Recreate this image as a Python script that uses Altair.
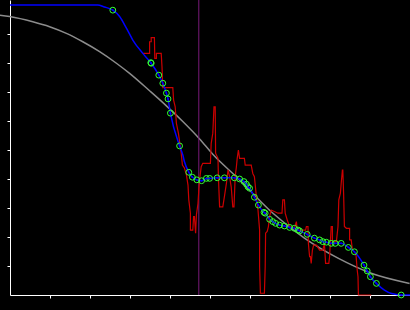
import altair as alt
import pandas as pd

# smooth reference curve (gray)
gray_x = [-0.26, -0.01, 0.57, 0.99, 1.41, 1.82, 2.24, 2.66, 2.99, 3.49, 3.91, 4.32, 4.74, 5.07, 5.70, 6.53, 7.36, 8.20, 9.03, 9.99]
gray_y = [9.65, 9.60, 9.42, 9.25, 9.02, 8.73, 8.39, 7.99, 7.64, 7.04, 6.52, 5.98, 5.38, 4.85, 4.02, 2.87, 1.96, 1.27, 0.75, 0.40]

# noisy measured series (red)
red_x = [3.32, 3.49, 3.49, 3.53, 3.53, 3.61, 3.62, 3.66, 3.66, 3.78, 3.80, 3.82, 4.07, 4.09, 4.13, 4.16,
         4.21, 4.28, 4.31, 4.36, 4.41, 4.45, 4.47, 4.51, 4.51, 4.57, 4.59, 4.61, 4.64, 4.66, 4.70, 4.72,
         4.74, 4.78, 4.82, 5.01, 5.03, 5.07, 5.10, 5.13, 5.14, 5.20, 5.21, 5.24, 5.32, 5.36, 5.41, 5.45,
         5.49, 5.53, 5.57, 5.60, 5.63, 5.66, 5.68, 5.71, 5.74, 5.86, 5.88, 6.03, 6.07, 6.11, 6.16, 6.20,
         6.24, 6.24, 6.26, 6.36, 6.38, 6.39, 6.43, 6.46, 6.49, 6.53, 6.70, 6.80, 6.82, 6.86, 6.88, 6.93,
         6.99, 7.11, 7.16, 7.18, 7.39, 7.41, 7.45, 7.46, 7.49, 7.51, 7.53, 7.56, 7.59, 7.66, 7.74, 7.82,
         7.86, 7.89, 7.97, 7.99, 8.03, 8.06, 8.06, 8.16, 8.20, 8.22, 8.26, 8.28, 8.31, 8.32, 8.34, 8.36,
         8.41, 8.49, 8.49, 8.53, 8.56, 8.61, 8.65, 8.68, 8.70, 8.71, 9.03]
red_y = [8.33, 8.33, 8.73, 8.73, 8.87, 8.87, 8.16, 8.16, 8.33, 8.33, 7.87, 7.15, 7.15, 6.72, 6.49, 5.92,
         5.58, 4.89, 4.48, 4.38, 4.14, 3.79, 3.28, 2.82, 2.24, 2.24, 2.70, 2.70, 2.13, 2.76, 3.16, 3.62,
         3.97, 4.42, 4.54, 4.54, 5.23, 5.58, 6.49, 6.49, 4.89, 4.71, 4.08, 3.04, 3.04, 3.39, 3.85, 4.31,
         4.08, 3.73, 3.04, 3.04, 4.08, 4.42, 4.71, 5.00, 4.71, 4.71, 4.48, 4.48, 4.19, 4.08, 3.39, 2.93,
         2.24, 0.98, 0.06, 0.06, 0.98, 2.13, 2.19, 2.36, 2.70, 2.93, 2.82, 2.82, 3.28, 3.28, 2.82, 2.59,
         2.36, 2.30, 2.53, 2.24, 2.24, 2.36, 2.36, 1.78, 1.32, 1.32, 1.09, 1.55, 1.72, 1.72, 1.55, 1.55,
         1.78, 1.09, 1.09, 1.32, 2.36, 2.36, 1.84, 1.84, 2.36, 3.28, 3.51, 3.85, 4.31, 4.31, 3.51, 2.36,
         2.30, 2.30, 1.90, 1.90, 1.55, 1.49, 1.38, 0.86, 0.63, 0.00, 0.00]

# fitted series (blue)
blue_x = [0.0, 2.19, 2.36, 2.57, 2.74, 2.91, 3.07, 3.32, 3.53, 3.72, 3.82, 3.91, 3.95, 4.01, 4.24, 4.32,
          4.36, 4.47, 4.56, 4.67, 4.79, 4.91, 4.99, 5.18, 5.36, 5.61, 5.74, 5.85, 5.91, 5.95, 5.99, 6.11,
          6.21, 6.35, 6.38, 6.49, 6.57, 6.64, 6.74, 6.86, 6.99, 7.11, 7.20, 7.24, 7.43, 7.61, 7.74, 7.82,
          7.91, 8.03, 8.13, 8.28, 8.46, 8.61, 8.85, 8.93, 9.01, 9.16, 9.36, 9.54, 9.78, 10.0]
blue_y = [10.0, 10.0, 9.93, 9.82, 9.60, 9.20, 8.79, 8.33, 7.99, 7.58, 7.30, 6.96, 6.76, 6.27, 5.14, 4.83,
          4.60, 4.23, 4.06, 3.97, 3.94, 4.02, 4.02, 4.04, 4.04, 4.04, 4.00, 3.91, 3.82, 3.73, 3.68, 3.37,
          3.10, 2.85, 2.82, 2.61, 2.53, 2.47, 2.41, 2.38, 2.33, 2.30, 2.24, 2.21, 2.09, 1.96, 1.90, 1.84,
          1.82, 1.78, 1.78, 1.78, 1.64, 1.49, 1.03, 0.83, 0.63, 0.40, 0.17, 0.05, 0.00, 0.00]

# sample points (circles)
pt_x = [2.57, 3.52, 3.53, 3.72, 3.82, 3.91, 3.95, 4.01, 4.24, 4.47, 4.56, 4.67, 4.79, 4.91, 4.99, 5.18,
        5.36, 5.61, 5.74, 5.85, 5.91, 5.95, 5.99, 6.11, 6.21, 6.35, 6.38, 6.49, 6.57, 6.64, 6.74, 6.86,
        6.99, 7.11, 7.20, 7.24, 7.43, 7.61, 7.74, 7.82, 7.91, 8.03, 8.13, 8.28, 8.46, 8.61, 8.85, 8.93,
        9.01, 9.16, 9.78]
pt_y = [9.82, 8.01, 7.99, 7.58, 7.30, 6.96, 6.76, 6.27, 5.14, 4.23, 4.06, 3.97, 3.94, 4.02, 4.02, 4.04,
        4.04, 4.04, 4.00, 3.91, 3.82, 3.73, 3.68, 3.37, 3.10, 2.85, 2.82, 2.61, 2.53, 2.47, 2.41, 2.38,
        2.33, 2.30, 2.24, 2.21, 2.09, 1.96, 1.90, 1.84, 1.82, 1.78, 1.78, 1.78, 1.64, 1.49, 1.03, 0.83,
        0.63, 0.40, 0.00]

marker_x = [4.72]
tick_vals = [1, 2, 3, 4, 5, 6, 7, 8, 9]

gray = pd.DataFrame({"x": gray_x, "y": gray_y})
red = pd.DataFrame({"x": red_x, "y": red_y, "i": list(range(len(red_x)))})
blue = pd.DataFrame({"x": blue_x, "y": blue_y})
pts = pd.DataFrame({"x": pt_x, "y": pt_y})
vline = pd.DataFrame({"x": marker_x})

xs = alt.Scale(domain=[0, 10], nice=False, zero=False)
ys = alt.Scale(domain=[0, 10.17], nice=False, zero=False)
xax = alt.Axis(values=tick_vals, labels=False, title=None, grid=False, domainColor="white",
               tickColor="white", tickSize=3, domainWidth=1, tickWidth=1)
yax = alt.Axis(values=tick_vals, labels=False, title=None, grid=False, domainColor="white",
               tickColor="white", tickSize=3, domainWidth=1, tickWidth=1)
X = alt.X("x:Q", scale=xs, axis=xax)
Y = alt.Y("y:Q", scale=ys, axis=yax)

g = alt.Chart(gray).mark_line(color="#8c8c8c", strokeWidth=1.5, interpolate="monotone").encode(x=X, y=Y)
v = alt.Chart(vline).mark_rule(color="#7a1a7a", strokeWidth=1).encode(x=alt.X("x:Q", scale=xs, axis=xax))
r = alt.Chart(red).mark_line(color="#cc0000", strokeWidth=1.2).encode(x=X, y=Y, order="i:Q")
b = alt.Chart(blue).mark_line(color="#0000ff", strokeWidth=1.5, interpolate="monotone").encode(x=X, y=Y)
c = alt.Chart(pts).mark_point(shape="circle", size=34, color="#33ff33", strokeWidth=1, filled=False, opacity=1).encode(x=X, y=Y)
d = alt.Chart(pts).mark_point(shape="circle", size=3, color="#0000ff", filled=True, opacity=1).encode(x=X, y=Y)

chart = alt.layer(g, v, r, b, c, d).properties(
    width=400, height=295,
    autosize=alt.AutoSizeParams(type="none"),
    padding={"left": 10, "top": 0, "right": 0, "bottom": 15},
    background="#000000",
).configure_view(stroke=None)

chart.save("out.html", embed_options={"renderer": "svg", "actions": False})
